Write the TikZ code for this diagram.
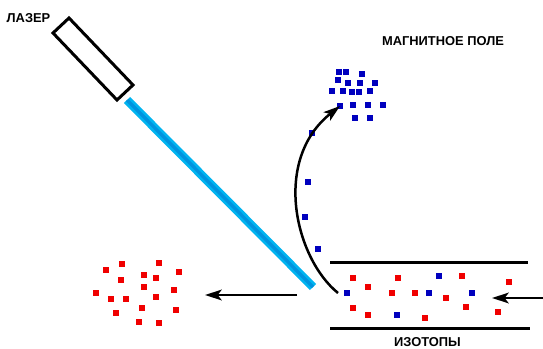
\documentclass[tikz,border=0pt]{standalone}
\usepackage{fontspec}
\setmainfont{Liberation Sans}
\usetikzlibrary{arrows.meta}

\definecolor{beamcyan}{RGB}{0,180,240}
\definecolor{beamcore}{RGB}{0,115,205}
\definecolor{ionblue}{RGB}{0,0,190}
\definecolor{ionred}{RGB}{240,0,0}

\begin{document}
\begin{tikzpicture}[
  x=0.03cm, y=-0.03cm,
  label/.style={font=\bfseries\fontsize{11}{13}\selectfont},
  ion/.style={rectangle, inner sep=0pt, minimum size=0.18cm},
  rion/.style={ion, fill=ionred},
  bion/.style={ion, fill=ionblue},
  wall/.style={line width=0.09cm},
  flow/.style={line width=0.075cm, -{Stealth[length=0.5cm,width=0.32cm,inset=0.12cm]}},
  beam/.style={line width=0.26cm, draw=beamcyan},
  beamcore/.style={line width=0.1cm, draw=beamcore, opacity=0.5}
]
    \useasboundingbox (0,0) rectangle (543,349);

    % laser body and beam
    \draw[wall] (69,18) -- (53,33) -- (117,100) -- (133,85) -- cycle;
    \coordinate (beamA) at (127,100);
    \coordinate (beamB) at (313,287);
    \draw[beam] (beamA) -- (beamB);
    \draw[beamcore] (beamA) -- (beamB);

    % tube walls
    \coordinate (tubeTL) at (330,263);
    \coordinate (tubeTR) at (528,263);
    \coordinate (tubeBL) at (330,328);
    \coordinate (tubeBR) at (530,328);
    \draw[wall] (tubeTL) -- (tubeTR);
    \draw[wall] (tubeBL) -- (tubeBR);

    % ions inside the tube
    \foreach \p [count=\i] in {(353,278),(368,287),(398,278),(392,293),(415,293),
        (462,276),(446,298),(509,282),(353,308),(368,315),(425,318),(466,307),(498,312)}
        \node[rion] (tr\i) at \p {};
    \foreach \p [count=\i] in {(347,293),(439,276),(429,293),(472,293),(397,315)}
        \node[bion] (tb\i) at \p {};

    % deflected ions along the arc
    \foreach \p [count=\i] in {(318,249),(305,217),(308,182),(312,133)}
        \node[bion] (arc\i) at \p {};

    % blue cloud in the field
    \foreach \p [count=\i] in {(339,72),(346,72),(362,74),(338,80),(348,83),(360,83),
        (375,83),(332,91),(343,91),(352,92),(359,92),(370,91),(340,106),(353,105),
        (368,105),(383,105),(355,118),(370,118)}
        \node[bion] (cb\i) at \p {};

    % red cloud on the left
    \foreach \p [count=\i] in {(106,270),(122,264),(159,263),(179,272),(121,280),(144,275),
        (156,278),(144,287),(174,290),(96,293),(111,299),(126,299),(156,297),(142,308),
        (176,310),(116,313),(139,322),(159,323)}
        \node[rion] (cr\i) at \p {};

    % flows
    \coordinate (inR) at (545,298);
    \coordinate (inL) at (492,298);
    \draw[flow] (inR) -- (inL);
    \coordinate (outR) at (297,295);
    \coordinate (outL) at (205,295);
    \draw[flow] (outR) -- (outL);
    \coordinate (kick) at (338,293);
    \draw[flow] (kick) .. controls (295,258) and (272,160) .. (cb13.center);

    % labels
    \node[label] (laser) at (28.5,18) {ЛАЗЕР};
    \node[label] (field) at (443,41) {МАГНИТНОЕ ПОЛЕ};
    \node[label] (isotopes) at (427.5,342) {ИЗОТОПЫ};
\end{tikzpicture}
\end{document}
